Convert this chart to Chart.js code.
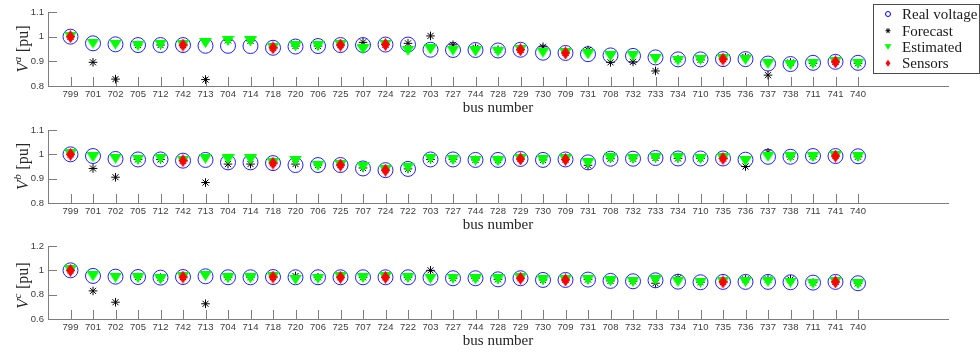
<!DOCTYPE html>
<html>
<head>
<meta charset="utf-8">
<script src="https://cdn.jsdelivr.net/npm/chart.js@4.4.1/dist/chart.umd.min.js"></script>
<style>
  html, body { margin: 0; padding: 0; background: #fff; }
  #wrap { position: relative; width: 980px; height: 352px; overflow: hidden; }
  canvas { position: absolute; left: 0; }
</style>
</head>
<body>
<div id="wrap">
  <canvas id="pa" width="980" height="117" style="top:0px"></canvas>
  <canvas id="pb" width="980" height="117" style="top:117px"></canvas>
  <canvas id="pc" width="980" height="118" style="top:234px"></canvas>
</div>
<script>
// Bus names along the feeder (x axis categories)
const buses = ['799','701','702','705','712','742','713','704','714','718','720','706',
               '725','707','724','722','703','727','744','728','729','730','709','731','708','732',
               '733','734','710','735','736','737','738','711','741','740'];

// Phase a voltages [pu]
const realA = [1.000,0.973,0.969,0.966,0.966,0.966,0.963,0.963,0.962,0.955,0.960,0.962,
               0.966,0.966,0.968,0.968,0.947,0.946,0.946,0.944,0.947,0.935,0.934,0.929,0.924,0.922,
               0.916,0.908,0.908,0.909,0.909,0.891,0.889,0.894,0.898,0.894];
const forecastA = [1.000,0.896,0.828,0.966,0.966,0.966,0.826,0.985,0.983,0.955,0.962,0.962,
               0.966,0.977,0.968,0.973,1.003,0.967,0.955,0.947,0.947,0.959,0.934,0.946,0.896,0.898,
               0.861,0.908,0.906,0.909,0.917,0.844,0.895,0.892,0.898,0.892];
const estimatedA = [1.000,0.972,0.968,0.963,0.968,0.966,0.974,0.983,0.981,0.955,0.961,0.962,
               0.966,0.948,0.968,0.943,0.948,0.943,0.940,0.939,0.947,0.935,0.934,0.928,0.921,0.921,
               0.910,0.903,0.906,0.909,0.906,0.889,0.885,0.891,0.898,0.891];
const sensorsA = [1.000,null,null,null,null,0.966,null,null,null,0.955,null,null,
               0.966,null,0.968,null,null,null,null,null,0.947,null,0.934,null,null,null,
               null,null,null,0.909,null,null,null,null,0.898,null];

// Phase b voltages [pu]
const realB = [1.000,0.993,0.981,0.979,0.979,0.974,0.977,0.967,0.967,0.964,0.956,0.956,
               0.956,0.942,0.935,0.940,0.979,0.979,0.977,0.977,0.981,0.977,0.979,0.967,0.982,0.982,
               0.985,0.983,0.983,0.983,0.978,0.990,0.990,0.993,0.993,0.992];
const forecastB = [1.000,0.942,0.906,0.979,0.979,0.974,0.884,0.960,0.960,0.964,0.960,0.956,
               0.956,0.944,0.935,0.940,0.979,0.979,0.977,0.977,0.981,0.977,0.979,0.955,0.982,0.982,
               0.985,0.983,0.983,0.983,0.950,1.008,0.990,0.991,0.993,0.990];
const estimatedB = [1.000,0.988,0.982,0.978,0.982,0.974,0.982,0.979,0.979,0.964,0.974,0.953,
               0.956,0.948,0.935,0.945,0.982,0.977,0.974,0.971,0.981,0.977,0.979,0.963,0.983,0.981,
               0.985,0.985,0.981,0.983,0.972,0.990,0.989,0.989,0.993,0.989];
const sensorsB = [1.000,null,null,null,null,0.974,null,null,null,0.964,null,null,
               0.956,null,0.935,null,null,null,null,null,0.981,null,0.979,null,null,null,
               null,null,null,0.983,null,null,null,null,0.993,null];

// Phase c voltages [pu]
const realC = [1.000,0.954,0.948,0.945,0.940,0.945,0.951,0.943,0.943,0.945,0.943,0.943,
               0.943,0.943,0.943,0.943,0.940,0.935,0.935,0.926,0.935,0.921,0.921,0.924,0.913,0.910,
               0.918,0.907,0.902,0.905,0.905,0.905,0.902,0.899,0.905,0.894];
const forecastC = [1.000,0.831,0.738,0.945,0.940,0.945,0.725,0.943,0.943,0.945,0.953,0.943,
               0.943,0.943,0.943,0.943,1.000,0.935,0.935,0.926,0.935,0.921,0.921,0.924,0.913,0.910,
               0.894,0.935,0.902,0.905,0.925,0.925,0.925,0.899,0.905,0.894];
const estimatedC = [1.000,0.951,0.940,0.937,0.926,0.945,0.954,0.935,0.935,0.945,0.924,0.932,
               0.943,0.937,0.943,0.937,0.932,0.932,0.926,0.926,0.935,0.918,0.921,0.921,0.910,0.905,
               0.918,0.905,0.899,0.905,0.905,0.905,0.899,0.891,0.905,0.886];
const sensorsC = [1.000,null,null,null,null,0.945,null,null,null,0.945,null,null,
               0.943,null,0.943,null,null,null,null,null,0.935,null,0.921,null,null,null,
               null,null,null,0.905,null,null,null,null,0.905,null];

// Y axis ranges and tick steps per phase
const yMinA = 0.8, yMaxA = 1.1, yStepA = 0.1;
const yMinB = 0.8, yMaxB = 1.1, yStepB = 0.1;
const yMinC = 0.6, yMaxC = 1.2, yStepC = 0.2;

const seriesNames = ['Real voltage', 'Forecast', 'Estimated', 'Sensors'];

const AXIS_COLOR = '#7d7d7d';
const TICK_TEXT = '#3c3c3c';
const SANS = '"Liberation Sans", Arial, sans-serif';
const SERIF = '"Liberation Serif", "DejaVu Serif", serif';

// Marker sprites: filled down-pointing triangle and tall diamond
function triangleSprite(w, h, color) {
  const c = document.createElement('canvas');
  c.width = w; c.height = h;
  const g = c.getContext('2d');
  g.fillStyle = color;
  g.beginPath(); g.moveTo(0, 0); g.lineTo(w, 0); g.lineTo(w / 2, h); g.closePath(); g.fill();
  return c;
}
function diamondSprite(w, h, color) {
  const c = document.createElement('canvas');
  c.width = w; c.height = h;
  const g = c.getContext('2d');
  g.fillStyle = color;
  g.beginPath(); g.moveTo(w / 2, 0); g.lineTo(w, h / 2); g.lineTo(w / 2, h); g.lineTo(0, h / 2); g.closePath(); g.fill();
  return c;
}
const triImg = triangleSprite(13, 10, '#00ff00');
const diaImg = diamondSprite(9, 13, '#ff0000');

function points(values) {
  return values.map((v, i) => (v === null ? null : { x: i + 1, y: v })).filter(p => p !== null);
}

// Inward tick marks, axis titles and the legend box
const decor = {
  id: 'decor',
  beforeDatasetsDraw(chart) {
    const { ctx, chartArea: a, scales: { x, y } } = chart;
    ctx.save();
    ctx.strokeStyle = AXIS_COLOR;
    ctx.lineWidth = 1;
    ctx.beginPath();
    x.ticks.forEach(t => {
      const px = Math.round(x.getPixelForValue(t.value)) + 0.5;
      ctx.moveTo(px, a.bottom); ctx.lineTo(px, a.bottom - 9);
    });
    y.ticks.forEach(t => {
      const py = Math.round(y.getPixelForValue(t.value)) + 0.5;
      ctx.moveTo(a.left, py); ctx.lineTo(a.left + 9, py);
    });
    ctx.stroke();
    ctx.restore();
  },
  afterDraw(chart, args, opts) {
    const { ctx, chartArea: a } = chart;
    ctx.save();
    ctx.fillStyle = '#262626';
    // x axis title
    ctx.font = '15px ' + SERIF;
    ctx.textAlign = 'center';
    ctx.textBaseline = 'middle';
    ctx.fillText('bus number', (a.left + a.right) / 2, a.bottom + 22);
    // y axis title: V^phase [pu], rotated
    ctx.translate(28, (a.top + a.bottom) / 2 + (opts.titleShift || 0));
    ctx.rotate(-Math.PI / 2);
    ctx.textAlign = 'left';
    ctx.textBaseline = 'alphabetic';
    const fV = 'italic 16px ' + SERIF, fS = 'italic 11px ' + SERIF, fU = '16px ' + SERIF;
    ctx.font = fV; const wV = ctx.measureText('V').width;
    ctx.font = fS; const wS = ctx.measureText(opts.phase).width;
    ctx.font = fU; const wU = ctx.measureText(' [pu]').width;
    let x0 = -(wV + wS + 1 + wU) / 2;
    ctx.font = fV; ctx.fillText('V', x0, 0); x0 += wV + 0.5;
    ctx.font = fS; ctx.fillText(opts.phase, x0, -7); x0 += wS + 0.5;
    ctx.font = fU; ctx.fillText(' [pu]', x0, 0);
    ctx.restore();

    if (opts.legend) drawLegend(ctx);
  }
};

function drawLegend(ctx) {
  ctx.save();
  const bx = 873.5, by = 4.5, bw = 106, bh = 69;
  ctx.fillStyle = '#ffffff';
  ctx.fillRect(bx, by, bw, bh);
  ctx.strokeStyle = '#4a4a4a';
  ctx.lineWidth = 1;
  ctx.strokeRect(bx, by, bw, bh);
  const rows = [14, 30.7, 46.7, 63.3];
  const mx = 888;
  // Real voltage: small open circle
  ctx.strokeStyle = '#0000ff';
  ctx.beginPath(); ctx.arc(mx, rows[0], 2.5, 0, Math.PI * 2); ctx.stroke();
  // Forecast: small asterisk
  ctx.strokeStyle = '#000';
  ctx.beginPath();
  const r = 2.5, d = r * Math.SQRT1_2;
  ctx.moveTo(mx - r, rows[1]); ctx.lineTo(mx + r, rows[1]);
  ctx.moveTo(mx, rows[1] - r); ctx.lineTo(mx, rows[1] + r);
  ctx.moveTo(mx - d, rows[1] - d); ctx.lineTo(mx + d, rows[1] + d);
  ctx.moveTo(mx - d, rows[1] + d); ctx.lineTo(mx + d, rows[1] - d);
  ctx.stroke();
  // Estimated: small down triangle
  ctx.fillStyle = '#00ff00';
  ctx.beginPath(); ctx.moveTo(mx - 3.5, rows[2] - 2.5); ctx.lineTo(mx + 3.5, rows[2] - 2.5); ctx.lineTo(mx, rows[2] + 3); ctx.closePath(); ctx.fill();
  // Sensors: small diamond
  ctx.fillStyle = '#ff0000';
  ctx.beginPath(); ctx.moveTo(mx, rows[3] - 3.5); ctx.lineTo(mx + 2.5, rows[3]); ctx.lineTo(mx, rows[3] + 3.5); ctx.lineTo(mx - 2.5, rows[3]); ctx.closePath(); ctx.fill();
  // Labels
  ctx.fillStyle = '#1a1a1a';
  ctx.font = '15px ' + SERIF;
  ctx.textAlign = 'left';
  ctx.textBaseline = 'middle';
  seriesNames.forEach((s, i) => ctx.fillText(s, 902, rows[i] + 1));
  ctx.restore();
}

function makePanel(id, phase, real, forecast, estimated, sensors, yMin, yMax, yStep, top, xAxisH, titleShift, legend) {
  const canvas = document.getElementById(id);
  return new Chart(canvas, {
    type: 'scatter',
    data: {
      datasets: [
        { label: seriesNames[0], data: points(real), pointStyle: 'circle', pointRadius: 7.5,
          pointBorderColor: '#1f1fff', pointBackgroundColor: 'rgba(0,0,0,0)', pointBorderWidth: 1,
          showLine: false, order: 4, clip: false },
        { label: seriesNames[1], data: points(forecast), pointStyle: 'star', pointRadius: 4.3,
          pointBorderColor: '#000000', pointBackgroundColor: '#000000', pointBorderWidth: 1,
          showLine: false, order: 3, clip: false },
        { label: seriesNames[2], data: points(estimated), pointStyle: triImg, pointRadius: 6,
          showLine: false, order: 2, clip: false },
        { label: seriesNames[3], data: points(sensors), pointStyle: diaImg, pointRadius: 6,
          showLine: false, order: 1, clip: false }
      ]
    },
    options: {
      responsive: false,
      animation: false,
      devicePixelRatio: 1,
      events: [],
      layout: { padding: { top: top, right: 32, left: 0, bottom: 0 }, autoPadding: false },
      plugins: {
        legend: { display: false },
        tooltip: { enabled: false },
        decor: { phase: phase, legend: legend, titleShift: titleShift }
      },
      scales: {
        x: {
          type: 'linear', position: 'bottom', min: 0, max: buses.length + 4,
          afterBuildTicks(s) { s.ticks = buses.map((b, i) => ({ value: i + 1 })); },
          afterFit(s) { s.height = xAxisH; },
          ticks: {
            autoSkip: false, maxRotation: 0, minRotation: 0, padding: 3,
            color: TICK_TEXT, font: { family: SANS, size: 9.5 },
            callback: v => buses[Math.round(v) - 1] || ''
          },
          grid: { display: false, drawTicks: false },
          border: { display: true, color: AXIS_COLOR, width: 1 }
        },
        y: {
          type: 'linear', position: 'left', min: yMin, max: yMax,
          afterFit(s) { s.width = 48; },
          ticks: {
            stepSize: yStep, padding: 4,
            color: TICK_TEXT, font: { family: SANS, size: 9.5 },
            callback: v => String(Number(v.toFixed(2)))
          },
          grid: { display: false, drawTicks: false },
          border: { display: true, color: AXIS_COLOR, width: 1 }
        }
      }
    },
    plugins: [decor]
  });
}

makePanel('pa', 'a', realA, forecastA, estimatedA, sensorsA, yMinA, yMaxA, yStepA, 12, 31, 0, true);
makePanel('pb', 'b', realB, forecastB, estimatedB, sensorsB, yMinB, yMaxB, yStepB, 13, 31, 0, false);
makePanel('pc', 'c', realC, forecastC, estimatedC, sensorsC, yMinC, yMaxC, yStepC, 12, 33, 3, false);
</script>
</body>
</html>
